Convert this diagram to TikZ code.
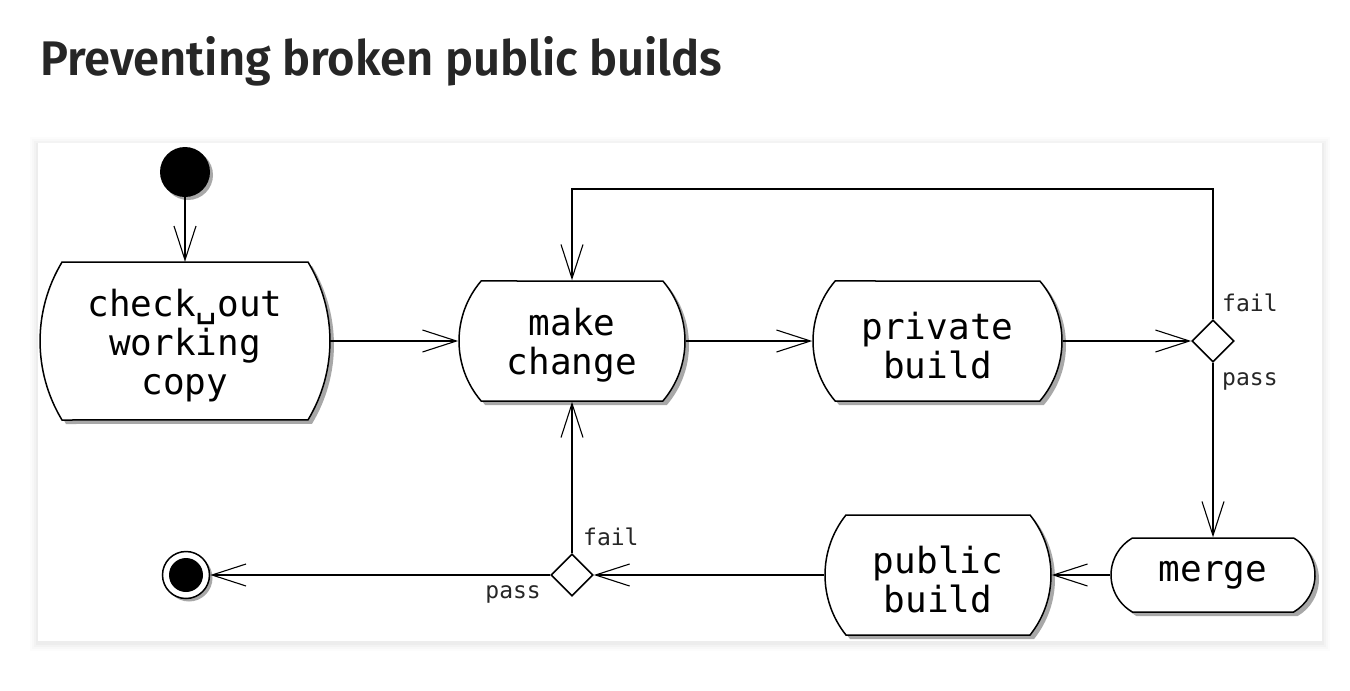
\documentclass[tikz,border=0pt]{standalone}
\usepackage{fontspec}
\usepackage{graphicx}
\setmainfont{Fira Sans}
\IfFontExistsTF{Fira Sans SemiBold}
  {\newfontfamily\titlef{Fira Sans SemiBold}}
  {\newfontfamily\titlef{Fira Sans}}
\newfontfamily\monof{DejaVu Sans Mono}
\usetikzlibrary{shapes.misc,shapes.geometric,arrows.meta,shadows}
\definecolor{titlecol}{HTML}{262626}
\definecolor{shadowcol}{HTML}{A8A8A8}
\newcommand{\zl}[1]{\makebox[0pt]{#1}}
\newcommand{\tstrut}{\rule{0pt}{36pt}}
\tikzset{
  actfont/.style={font=\monof\fontsize{36}{39}\selectfont},
  act/.style={rounded rectangle, draw=black, line width=1.5pt, fill=white,
    inner sep=0pt, align=center, actfont,
    drop shadow={shadow xshift=4pt, shadow yshift=-4pt, fill=shadowcol, opacity=1}},
  outline/.style={draw=black, line width=1.5pt, fill=white},
  shadowfill/.style={fill=shadowcol},
  decision/.style={diamond, draw=black, line width=1.6pt, fill=white, inner sep=0pt,
    minimum width=42pt, minimum height=42pt},
  guard/.style={font=\monof\fontsize{23}{25}\selectfont, text=black!85, inner sep=0pt},
  arr/.style={line width=1.4pt, -{Straight Barb[length=34pt,width=22pt,line width=1.1pt]}},
}
\begin{document}
\begin{tikzpicture}[x=1pt,y=-1pt]
\useasboundingbox (0,0) rectangle (1350,691);
\fill[white] (0,0) rectangle (1350,691);
% panel with soft shadow
\foreach \d/\o in {8/0.012,6/0.015,4/0.018,2/0.022}{
  \fill[black,opacity=\o] (38-\d,143-\d+2) rectangle (1322+\d,641+\d+2);
}
\fill[white] (38,143) rectangle (1322,641);
% title
\node[anchor=base west, inner sep=0pt, text=titlecol] (title) at (40,75)
  {\resizebox{682pt}{39pt}{\titlef Preventing broken public builds}};

% start / end
\node[circle, fill=black, minimum size=50pt, inner sep=0pt,
  drop shadow={shadow xshift=3pt, shadow yshift=-3pt, fill=shadowcol, opacity=1}] (start) at (185,172) {};
\node[circle, draw=black, line width=1.5pt, fill=white, minimum size=47pt, inner sep=0pt,
  drop shadow={shadow xshift=3pt, shadow yshift=-3pt, fill=shadowcol, opacity=1}] (stop) at (186,575) {};
\node[circle, fill=black, minimum size=34pt, inner sep=0pt] (stopin) at (stop) {};

% check out activity: outline drawn explicitly (flat circular arcs on both sides)
\foreach \s/\st in {4/shadowfill, 0/outline}{
  \path[\st, shift={(\s pt,-\s pt)}] (62,262) -- (308,262)
    arc[start angle=-31.1, end angle=31.1, radius=152.8]
    -- (62,420)
    arc[start angle=148.9, end angle=211.1, radius=152.8] -- cycle;
}
\node[rectangle, minimum width=290pt, minimum height=158pt, inner sep=0pt, align=center, actfont] (checkout) at (185,341)
  {\tstrut\zl{check␣out}\\\zl{working}\\\zl{copy}};

% other activities
\node[act, minimum width=226pt, minimum height=120pt, rounded rectangle arc length=81] (make) at (572,341)
  {\tstrut\zl{make}\\\zl{change}};
\node[act, minimum width=249pt, minimum height=120pt, rounded rectangle arc length=81] (private) at (937.5,341)
  {\tstrut\zl{private}\\\zl{build}};
\node[act, minimum width=226pt, minimum height=120pt, rounded rectangle arc length=77] (public) at (938,575)
  {\tstrut\zl{public}\\\zl{build}};
\node[act, minimum width=204pt, minimum height=74pt, rounded rectangle arc length=120] (merge) at (1213,575)
  {\zl{merge}};

% decisions
\node[decision] (d1) at (1213,341) {};
\node[decision] (d2) at (572,575) {};

% guards
\node[guard, anchor=base west] (f1) at (1222,311) {fail};
\node[guard, anchor=base west] (p1) at (1222,385) {pass};
\node[guard, anchor=base west] (f2) at (583,545) {fail};
\node[guard, anchor=base east] (p2) at (541,598) {pass};

\coordinate (top) at (0,189);

% connectors
\draw[arr] (start.south) -- (checkout.north);
\draw[arr] (checkout.east) -- (make.west);
\draw[arr] (make.east) -- (private.west);
\draw[arr] (private.east) -- (d1.west);
\draw[arr] (d1.north) -- (d1.north |- top) -- (make.north |- top) -- (make.north);
\draw[arr] (d1.south) -- (merge.north);
\draw[arr] (merge.west) -- (public.east);
\draw[arr] (public.west) -- (d2.east);
\draw[arr] (d2.north) -- (make.south);
\draw[arr] (d2.west) -- (stop.east);
\end{tikzpicture}
\end{document}
